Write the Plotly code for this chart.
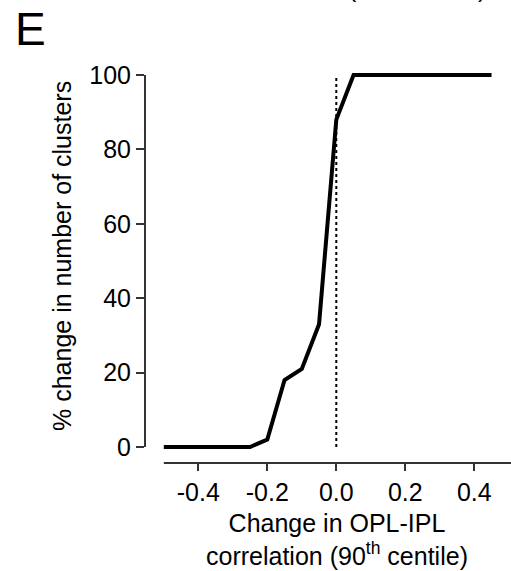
import plotly.graph_objects as go

# ---- data ----
x_vals = [-0.5, -0.45, -0.4, -0.35, -0.3, -0.25, -0.2, -0.15, -0.1, -0.05,
          0.0, 0.05, 0.1, 0.15, 0.2, 0.25, 0.3, 0.35, 0.4, 0.45]
y_vals = [0, 0, 0, 0, 0, 0, 2, 18, 21, 33,
          88, 100, 100, 100, 100, 100, 100, 100, 100, 100]
ref_x = [0, 0]
ref_y = [0, 100]
x_ticks = [-0.4, -0.2, 0.0, 0.2, 0.4]
x_ticktext = ["-0.4", "-0.2", "0.0", "0.2", "0.4"]
y_ticks = [0, 20, 40, 60, 80, 100]

FONT = "Arial, Liberation Sans, sans-serif"
FS = 25
AX = "#333333"
W, H = 511, 571
L, R, T, B = 145, 0, 65, 108
PW, PH = W - L - R, H - T - B


def px(p):
    return (p - L) / PW


def py(p):
    return (H - B - p) / PH


fig = go.Figure()
fig.add_trace(go.Scatter(x=ref_x, y=ref_y, mode="lines",
                         line=dict(color="black", width=2, dash="dot"),
                         hoverinfo="skip", showlegend=False))
fig.add_trace(go.Scatter(x=x_vals, y=y_vals, mode="lines",
                         line=dict(color="black", width=4),
                         showlegend=False))

fig.update_layout(
    width=W, height=H,
    margin=dict(l=L, r=R, t=T, b=B, pad=0),
    paper_bgcolor="white", plot_bgcolor="white",
    font=dict(family=FONT, size=FS, color="black"),
    xaxis=dict(range=[-0.5545, 0.5064], tickvals=x_ticks, ticktext=x_ticktext,
               ticks="outside", ticklen=7, tickwidth=2, tickcolor=AX,
               showline=False, showgrid=False, zeroline=False,
               tickfont=dict(size=FS, family=FONT)),
    yaxis=dict(range=[-4.301, 102.688], tickvals=y_ticks,
               ticks="outside", ticklen=8, tickwidth=2, tickcolor=AX,
               showline=False, showgrid=False, zeroline=False,
               tickfont=dict(size=FS, family=FONT)),
    shapes=[
        dict(type="line", xref="x", yref="paper", x0=-0.5, x1=0.5064,
             y0=0, y1=0, line=dict(color=AX, width=2)),
        dict(type="line", xref="paper", yref="y", x0=0, x1=0,
             y0=0, y1=100, line=dict(color=AX, width=2)),
    ],
    annotations=[
        dict(text="% change in number of clusters", xref="paper", yref="paper",
             x=px(62), y=py(256), textangle=-90, showarrow=False,
             xanchor="center", yanchor="middle", font=dict(size=FS)),
        dict(text="Change in OPL-IPL<br>correlation (90<sup>th</sup> centile)",
             xref="paper", yref="paper", x=px(337), y=py(539),
             showarrow=False, xanchor="center", yanchor="middle",
             font=dict(size=FS)),
        dict(text="E", xref="paper", yref="paper", x=px(13), y=py(29),
             showarrow=False, xanchor="left", yanchor="middle",
             font=dict(size=46)),
        dict(text="(", xref="paper", yref="paper", x=px(352), y=py(4),
             showarrow=False, xanchor="center", yanchor="bottom",
             font=dict(size=FS)),
        dict(text=")", xref="paper", yref="paper", x=px(482), y=py(4),
             showarrow=False, xanchor="center", yanchor="bottom",
             font=dict(size=FS)),
    ],
)

fig.write_html("out.html")
